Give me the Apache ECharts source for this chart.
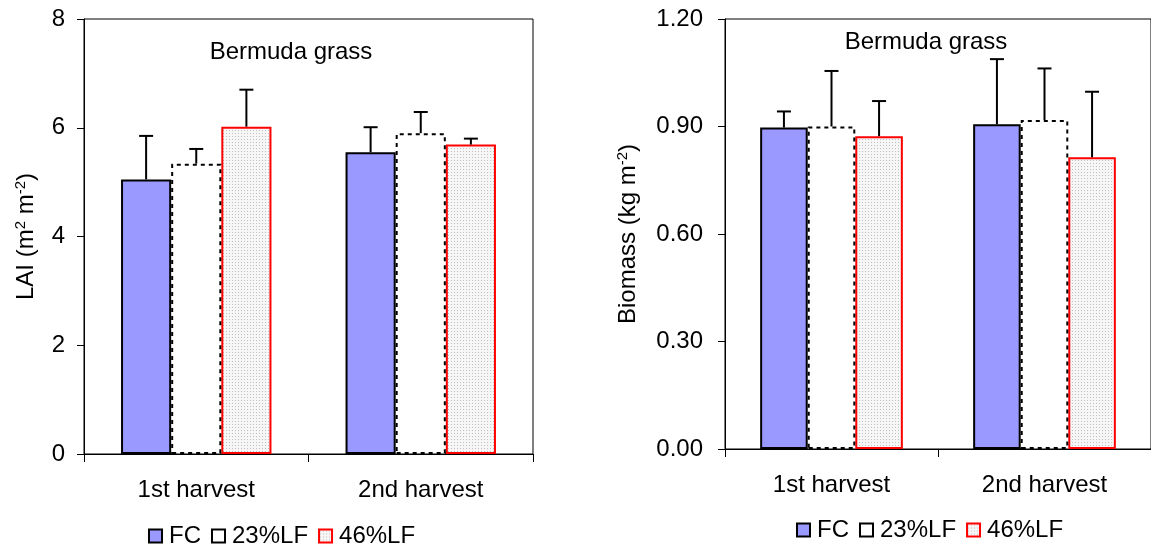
<!DOCTYPE html>
<html><head><meta charset="utf-8">
<script src="https://cdn.jsdelivr.net/npm/echarts@6/dist/echarts.min.js"></script>
<style>html,body{margin:0;padding:0;background:#fff}#c{width:1151px;height:550px}</style>
</head><body><div id="c"></div>
<script>
const categories = ['1st harvest', '2nd harvest'];
const seriesNames = ['FC', '23%LF', '46%LF'];
// LAI (left panel)
const laiFC = [5.05, 5.55];
const laiFCerr = [0.80, 0.46];
const lai23 = [5.34, 5.90];
const lai23err = [0.27, 0.39];
const lai46 = [6.02, 5.69];
const lai46err = [0.68, 0.11];
// Biomass (right panel)
const bioFC = [0.897, 0.906];
const bioFCerr = [0.045, 0.182];
const bio23 = [0.900, 0.918];
const bio23err = [0.155, 0.144];
const bio46 = [0.873, 0.814];
const bio46err = [0.098, 0.183];
const laiTicks = [0, 2, 4, 6, 8];
const bioTicks = [0.00, 0.30, 0.60, 0.90, 1.20];

const FONT = 'Liberation Sans, Arial, sans-serif';
const FS = 24;

// dotted pattern for 46%LF
const pc = document.createElement('canvas');
pc.width = 3; pc.height = 3;
const pctx = pc.getContext('2d');
pctx.fillStyle = '#f6f6f6'; pctx.fillRect(0, 0, 3, 3);
pctx.fillStyle = '#c0c0c0'; pctx.fillRect(1, 1, 1, 1);
const pattern = { image: pc, repeat: 'repeat' };

const styles = [
  { color: '#9999FF', borderColor: '#000', borderWidth: 2, borderType: 'solid' },
  { color: '#ffffff', borderColor: '#000', borderWidth: 2, borderType: [4, 4] },
  { color: pattern, borderColor: '#ff0000', borderWidth: 2, borderType: 'solid' }
];

const GAP = 0.33;
function errSeries(idx, gi, vals, errs) {
  return {
    type: 'custom', xAxisIndex: gi, yAxisIndex: gi, z: 5, silent: true,
    data: vals.map((v, i) => [i, v, v + errs[i]]),
    renderItem: function (params, api) {
      const catW = api.size([1, 0])[0];
      const barW = catW * (1 - GAP) / 3;
      const base = api.coord([api.value(0), api.value(1)]);
      const top = api.coord([api.value(0), api.value(2)]);
      const x = base[0] + (idx - 1) * barW;
      const cap = 7;
      return {
        type: 'group',
        children: [
          { type: 'line', shape: { x1: x, y1: base[1], x2: x, y2: top[1] }, style: { stroke: '#000', lineWidth: 2 } },
          { type: 'line', shape: { x1: x - cap, y1: top[1], x2: x + cap, y2: top[1] }, style: { stroke: '#000', lineWidth: 2 } }
        ]
      };
    }
  };
}

function barSeries(idx, gi, vals) {
  return {
    name: seriesNames[idx], type: 'bar', xAxisIndex: gi, yAxisIndex: gi,
    data: vals, barGap: '0%', barCategoryGap: (GAP * 100) + '%',
    itemStyle: styles[idx], emphasis: { disabled: true }, z: 2 + (idx === 1 ? 1 : 0)
  };
}

const axisLabelStyle = { color: '#000', fontFamily: FONT, fontSize: FS };

function xAx(gi) {
  return {
    type: 'category', gridIndex: gi, data: categories,
    axisLine: { lineStyle: { color: '#000', width: 1 } },
    axisTick: { show: true, length: 8, lineStyle: { color: '#000' } },
    axisLabel: Object.assign({ margin: 24 }, axisLabelStyle)
  };
}

const supStyle = { fontFamily: FONT, fontSize: 15, color: '#000', verticalAlign: 'top', padding: [0, 0, 12, 0] };

function legendCfg(left, top) {
  return {
    data: seriesNames.map(n => ({ name: n, icon: 'rect' })), left: left, top: top,
    itemWidth: 13, itemHeight: 13, itemGap: 10,
    textStyle: { fontFamily: FONT, fontSize: FS, color: '#000', padding: [0, 0, 0, 2] }
  };
}

const option = {
  animation: false,
  backgroundColor: '#fff',
  grid: [
    { left: 84, top: 19, width: 449, height: 435, show: true, borderColor: '#000', borderWidth: 1, backgroundColor: 'transparent' },
    { left: 725, top: 19, width: 434, height: 430, show: true, borderColor: '#000', borderWidth: 1, backgroundColor: 'transparent' }
  ],
  title: [
    { text: 'Bermuda grass', left: 286, top: 35, textAlign: 'center', textStyle: { fontFamily: FONT, fontSize: FS, fontWeight: 'normal', color: '#000' } },
    { text: 'Bermuda grass', left: 921, top: 25, textAlign: 'center', textStyle: { fontFamily: FONT, fontSize: FS, fontWeight: 'normal', color: '#000' } }
  ],
  legend: [legendCfg(143, 519), legendCfg(791, 513)],
  xAxis: [xAx(0), xAx(1)],
  yAxis: [
    {
      type: 'value', gridIndex: 0, min: laiTicks[0], max: laiTicks[laiTicks.length - 1], interval: 2,
      name: 'LAI (m{sup|2} m{sup|-2})', nameLocation: 'middle', nameGap: 44, nameRotate: 90,
      nameTextStyle: { fontFamily: FONT, fontSize: FS, color: '#000', rich: { sup: supStyle } },
      axisLine: { show: true, lineStyle: { color: '#000' } },
      axisTick: { show: true, length: 7, lineStyle: { color: '#000' } },
      splitLine: { show: false },
      axisLabel: Object.assign({ margin: 19 }, axisLabelStyle)
    },
    {
      type: 'value', gridIndex: 1, min: bioTicks[0], max: bioTicks[bioTicks.length - 1], interval: 0.3,
      name: 'Biomass (kg m{sup|-2})', nameLocation: 'middle', nameGap: 83, nameRotate: 90,
      nameTextStyle: { fontFamily: FONT, fontSize: FS, color: '#000', rich: { sup: supStyle } },
      axisLine: { show: true, lineStyle: { color: '#000' } },
      axisTick: { show: true, length: 7, lineStyle: { color: '#000' } },
      splitLine: { show: false },
      axisLabel: Object.assign({ margin: 22, formatter: v => v.toFixed(2) }, axisLabelStyle)
    }
  ],
  series: [
    barSeries(0, 0, laiFC), barSeries(1, 0, lai23), barSeries(2, 0, lai46),
    errSeries(0, 0, laiFC, laiFCerr), errSeries(1, 0, lai23, lai23err), errSeries(2, 0, lai46, lai46err),
    barSeries(0, 1, bioFC), barSeries(1, 1, bio23), barSeries(2, 1, bio46),
    errSeries(0, 1, bioFC, bioFCerr), errSeries(1, 1, bio23, bio23err), errSeries(2, 1, bio46, bio46err)
  ]
};
const chart = echarts.init(document.getElementById('c'), null, { renderer: 'canvas' });
chart.setOption(option);
</script>
</body></html>
